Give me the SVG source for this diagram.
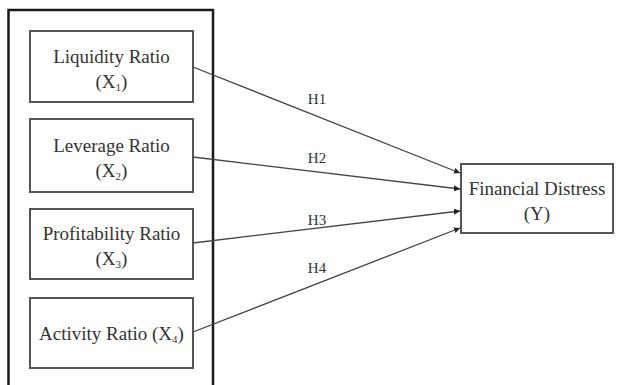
<svg xmlns="http://www.w3.org/2000/svg" width="617" height="385" viewBox="0 0 617 385">
  <style>
    .frame { fill: #ffffff; stroke: #1a1a1a; stroke-width: 2.5; }
    .box { fill: #ffffff; stroke: #555555; stroke-width: 2; }
    .lbl { font-family: "Liberation Serif", "Times New Roman", serif; font-size: 19px; fill: #333333; text-anchor: middle; }
    .hyp { font-family: "Liberation Serif", "Times New Roman", serif; font-size: 15px; fill: #333333; text-anchor: middle; }
    .sub { font-size: 11px; }
    .link { stroke: #444444; stroke-width: 1.3; fill: none; marker-end: url(#head); }
  </style>
  <defs>
    <marker id="head" viewBox="0 0 10 10" refX="10" refY="5" markerWidth="6" markerHeight="6" markerUnits="userSpaceOnUse" orient="auto">
      <path d="M0,0 L10,5 L0,10 Z" fill="#222222"/>
    </marker>
  </defs>

  <rect width="617" height="385" fill="#ffffff"/>

  <!-- outer frame grouping the independent variables -->
  <rect class="frame" x="8.5" y="10" width="204.5" height="385"/>

  <g id="x1">
    <rect class="box" x="30" y="31" width="163" height="71"/>
    <text class="lbl" x="111.5" y="63">Liquidity Ratio</text>
    <text class="lbl" x="111.5" y="88">(X<tspan class="sub" dy="3">1</tspan><tspan dy="-3">)</tspan></text>
  </g>

  <g id="x2">
    <rect class="box" x="30" y="119" width="163" height="73"/>
    <text class="lbl" x="111.5" y="152">Leverage Ratio</text>
    <text class="lbl" x="111.5" y="177">(X<tspan class="sub" dy="3">2</tspan><tspan dy="-3">)</tspan></text>
  </g>

  <g id="x3">
    <rect class="box" x="30" y="209" width="163" height="70"/>
    <text class="lbl" x="111.5" y="240">Profitability Ratio</text>
    <text class="lbl" x="111.5" y="265">(X<tspan class="sub" dy="3">3</tspan><tspan dy="-3">)</tspan></text>
  </g>

  <g id="x4">
    <rect class="box" x="30" y="298" width="163" height="70"/>
    <text class="lbl" x="111.5" y="340">Activity Ratio (X<tspan class="sub" dy="3">4</tspan><tspan dy="-3">)</tspan></text>
  </g>

  <g id="y">
    <rect class="box" x="461" y="164" width="152" height="69"/>
    <text class="lbl" x="537" y="195">Financial Distress</text>
    <text class="lbl" x="537" y="220">(Y)</text>
  </g>

  <g id="connectors">
    <line class="link" x1="193" y1="67" x2="460" y2="173"/>
    <line class="link" x1="193" y1="157" x2="460" y2="189"/>
    <line class="link" x1="193" y1="243" x2="460" y2="211"/>
    <line class="link" x1="193" y1="332" x2="460" y2="228"/>
    <text class="hyp" x="317" y="104">H1</text>
    <text class="hyp" x="317" y="163">H2</text>
    <text class="hyp" x="317" y="225">H3</text>
    <text class="hyp" x="317" y="273">H4</text>
  </g>
</svg>
